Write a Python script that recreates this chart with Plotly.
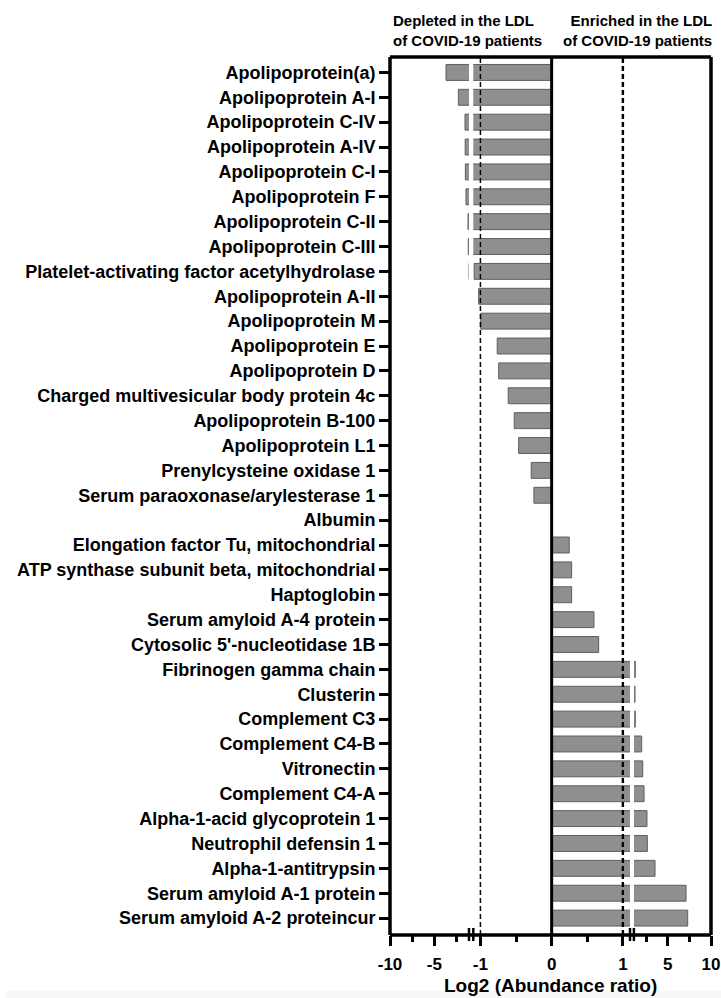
import plotly.graph_objects as go

# Proteins in display order (top to bottom)
proteins = [
    "Apolipoprotein(a)",
    "Apolipoprotein A-I",
    "Apolipoprotein C-IV",
    "Apolipoprotein A-IV",
    "Apolipoprotein C-I",
    "Apolipoprotein F",
    "Apolipoprotein C-II",
    "Apolipoprotein C-III",
    "Platelet-activating factor acetylhydrolase",
    "Apolipoprotein A-II",
    "Apolipoprotein M",
    "Apolipoprotein E",
    "Apolipoprotein D",
    "Charged multivesicular body protein 4c",
    "Apolipoprotein B-100",
    "Apolipoprotein L1",
    "Prenylcysteine oxidase 1",
    "Serum paraoxonase/arylesterase 1",
    "Albumin",
    "Elongation factor Tu, mitochondrial",
    "ATP synthase subunit beta, mitochondrial",
    "Haptoglobin",
    "Serum amyloid A-4 protein",
    "Cytosolic 5'-nucleotidase 1B",
    "Fibrinogen gamma chain",
    "Clusterin",
    "Complement C3",
    "Complement C4-B",
    "Vitronectin",
    "Complement C4-A",
    "Alpha-1-acid glycoprotein 1",
    "Neutrophil defensin 1",
    "Alpha-1-antitrypsin",
    "Serum amyloid A-1 protein",
    "Serum amyloid A-2 proteincur",
]

# Log2 abundance ratio (COVID-19 / control)
log2_ratio = [
    -3.69, -2.30, -1.55, -1.53, -1.51, -1.44, -1.21, -1.18,
    -1.09, -1.025, -0.995, -0.764, -0.744, -0.61, -0.525, -0.463,
    -0.287, -0.249, 0.0, 0.247, 0.281, 0.281, 0.594, 0.66,
    1.26, 1.23, 1.26, 2.0, 2.12, 2.27, 2.61, 2.65, 3.54, 7.12, 7.31,
]

# Segmented x axis: three pieces with breaks between them
seg_ranges = [[-10, -1.1], [-1.1, 1.1], [1.1, 10]]
seg_major = [[-10, -5], [-1, 0, 1], [5, 10]]
seg_minor = [[-7.5, -2.5], [-0.5, 0.5], [2.5, 7.5]]
threshold_lines = [-1, 1]

W, H = 721, 998
ML, MR, MT, MB = 390, 10, 57, 63
PW = W - ML - MR
PH = H - MT - MB

def px_x(p):
    return (p - ML) / PW

def px_y(p):
    return (H - MB - p) / PH

seg_domains = [[0.0, px_x(469)], [px_x(473.3), px_x(630)], [px_x(633.9), 1.0]]

FONT = "Liberation Sans, Arial, Helvetica, sans-serif"
BAR_FILL = "#8f8f8f"
BAR_EDGE = "#5e5e5e"

fig = go.Figure()
axis_names = ["x", "x2", "x3"]
for i, ax in enumerate(axis_names):
    fig.add_trace(go.Bar(
        x=log2_ratio, y=proteins, orientation="h",
        xaxis=ax, yaxis="y", width=0.64,
        marker=dict(color=BAR_FILL, line=dict(color=BAR_EDGE, width=1)),
        showlegend=False, hoverinfo="x+y",
    ))

layout_axes = {}
for i, key in enumerate(["xaxis", "xaxis2", "xaxis3"]):
    layout_axes[key] = dict(
        domain=seg_domains[i], range=seg_ranges[i], anchor="y",
        automargin=False,
        showgrid=False, zeroline=False, showline=False,
        tickmode="array", tickvals=seg_major[i],
        ticktext=[str(v) for v in seg_major[i]],
        ticks="outside", ticklen=10, tickwidth=3, tickcolor="black",
        ticklabelstandoff=4,
        tickfont=dict(family=FONT, size=17, color="black", weight="bold"),
        minor=dict(tickmode="array", tickvals=seg_minor[i], ticks="outside",
                   ticklen=6, tickwidth=2.5, tickcolor="black", showgrid=False),
        fixedrange=True,
    )

fig.update_layout(
    width=W, height=H,
    margin=dict(l=ML, r=MR, t=MT, b=MB, pad=0, autoexpand=False),
    paper_bgcolor="white", plot_bgcolor="white",
    yaxis=dict(
        type="category", categoryorder="array", categoryarray=proteins,
        range=[34.68, -0.62], anchor="x", automargin=False,
        showgrid=False, zeroline=False, showline=False,
        ticks="outside", ticklen=10, tickwidth=3, tickcolor="black",
        tickfont=dict(family=FONT, size=18, color="black", weight="bold"),
        fixedrange=True,
    ),
    **layout_axes,
)

shapes = []
# faint band along the page bottom
shapes.append(dict(type="rect", xref="paper", yref="paper",
                   x0=px_x(6), x1=px_x(721), y0=px_y(998), y1=px_y(991),
                   fillcolor="#f7f7f7", line=dict(width=0), layer="below"))
# threshold lines at +/-1
shapes.append(dict(type="line", xref="x2", yref="paper", x0=threshold_lines[0], x1=threshold_lines[0],
                   y0=0, y1=1, line=dict(color="black", width=1.5, dash="5px,3px")))
shapes.append(dict(type="line", xref="x2", yref="paper", x0=threshold_lines[1], x1=threshold_lines[1],
                   y0=0, y1=1, line=dict(color="black", width=2.4, dash="5px,3px")))
# zero line
shapes.append(dict(type="line", xref="x2", yref="paper", x0=0, x1=0, y0=0, y1=1,
                   line=dict(color="black", width=3)))
# frame
for x0, y0, x1, y1 in [(0, 1, 1, 1), (0, 0, 1, 0), (0, 0, 0, 1), (1, 0, 1, 1)]:
    shapes.append(dict(type="line", xref="paper", yref="paper", x0=x0, x1=x1, y0=y0, y1=y1,
                       line=dict(color="black", width=3.5)))
# axis break marks
for gap in [(seg_domains[0][1], seg_domains[1][0]), (seg_domains[1][1], seg_domains[2][0])]:
    for xb in gap:
        shapes.append(dict(type="line", xref="paper", yref="paper", x0=xb, x1=xb,
                           y0=px_y(941), y1=px_y(928),
                           line=dict(color="black", width=2.5)))

annotations = [
    dict(text="Depleted in the LDL<br>of COVID-19 patients", xref="paper", yref="paper",
         x=px_x(391), y=px_y(31), xanchor="left", yanchor="middle", align="left",
         showarrow=False, font=dict(family=FONT, size=15, color="black", weight="bold")),
    dict(text="Enriched in the LDL<br>of COVID-19 patients", xref="paper", yref="paper",
         x=px_x(714), y=px_y(31), xanchor="right", yanchor="middle", align="right",
         showarrow=False, font=dict(family=FONT, size=15, color="black", weight="bold")),
    dict(text="Log2 (Abundance ratio)", xref="paper", yref="paper",
         x=0.5, y=px_y(985), xanchor="center", yanchor="middle",
         showarrow=False, font=dict(family=FONT, size=19, color="black", weight="bold")),
]

fig.update_layout(shapes=shapes, annotations=annotations, bargap=0.36)
fig.write_html("out.html")
